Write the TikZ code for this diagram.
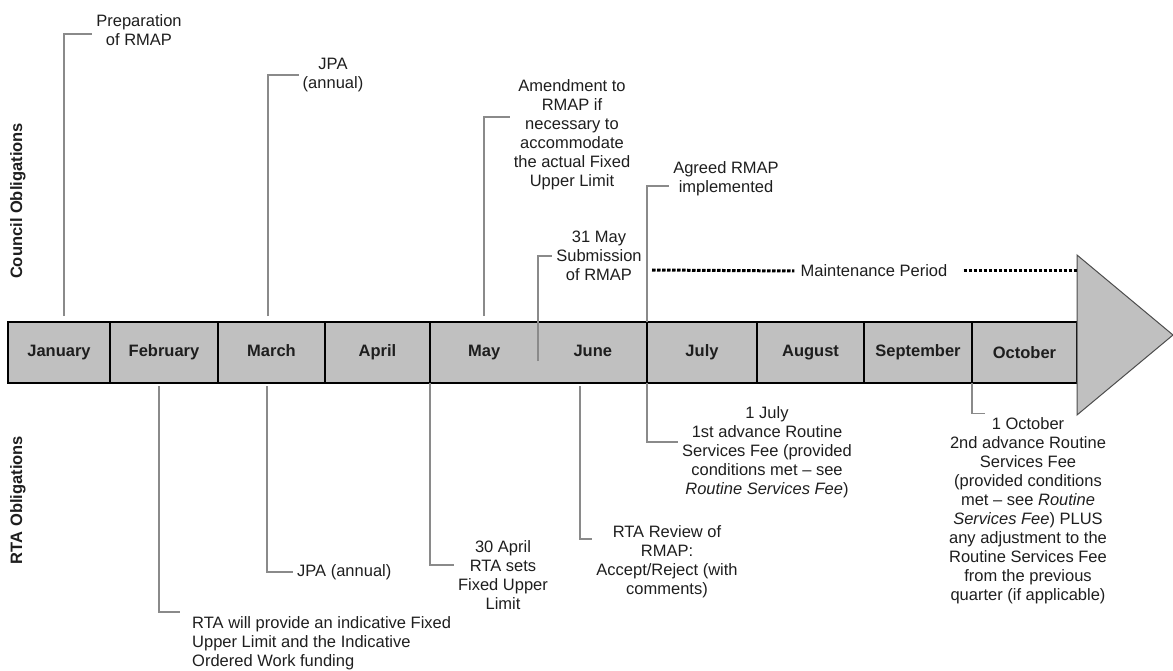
\documentclass[tikz,border=0pt]{standalone}
\usepackage{fontspec}
\setmainfont{Liberation Sans}
\usetikzlibrary{positioning}

\definecolor{barfill}{HTML}{C0C0C0}
\definecolor{linkgray}{HTML}{8A8A8A}
\definecolor{inkgray}{HTML}{1E1E1E}

\begin{document}
\begin{tikzpicture}[
  x=1pt, y=-1pt,
  font=\fontsize{16.5}{19}\selectfont,
  every node/.style={text=inkgray},
  cell/.style={
    fill=barfill,
    minimum height=61pt,
    text height=12pt,
    text depth=3.5pt,
    inner sep=0pt,
    outer sep=0pt,
    font=\fontsize{16.5}{19}\selectfont\bfseries
  },
  barline/.style={draw=black, line width=1.1pt},
  conn/.style={draw=linkgray, line width=1.1pt},
  note/.style={align=center, inner sep=4pt},
  side/.style={rotate=90, font=\fontsize{16.5}{19}\selectfont\bfseries},
  dots/.style={draw=black, line width=3pt, dash pattern=on 3.5pt off 1.5pt}
]
\useasboundingbox (0,0) rectangle (1173,671);

% =========================
% Side titles
% =========================
\node[side] (council) at (18,201) {Council Obligations};
\node[side] (rta) at (18,500) {RTA Obligations};

% =========================
% Month bar
% =========================
\node[cell, minimum width=102pt, anchor=north west] (jan) at (8,322) {January};
\node[cell, minimum width=108pt, right=0pt of jan] (feb) {February};
\node[cell, minimum width=107pt, right=0pt of feb] (mar) {March};
\node[cell, minimum width=105pt, right=0pt of mar] (apr) {April};
\node[cell, minimum width=108.5pt, right=0pt of apr] (may) {May};
\node[cell, minimum width=108.5pt, right=0pt of may] (jun) {June};
\node[cell, minimum width=110pt, right=0pt of jun] (jul) {July};
\node[cell, minimum width=107pt, right=0pt of jul] (aug) {August};
\node[cell, minimum width=108pt, right=0pt of aug] (sep) {September};
\node[cell, minimum width=105pt, text depth=0pt, right=0pt of sep] (oct) {October};

\draw[barline] (jan.north west) rectangle (oct.south east);
\foreach \m in {jan,feb,mar,apr,jun,jul,aug,sep}
  \draw[barline] (\m.north east) -- (\m.south east);
\draw[line width=2pt] (oct.north west) -- (oct.north east);

% arrow head
\draw[fill=barfill, draw=black!70, line width=1pt]
  ([yshift=67pt]oct.north east) -- ++(96,80) -- ([yshift=-32pt]oct.south east) -- cycle;

% =========================
% Council obligations (above)
% =========================
\node[note] (prep) at (139,30) {Preparation\\of RMAP};
\node[note] (jpat) at (333,75) {JPA\\(annual)};
\node[note] (amend) at (572,135)
{Amendment to\\RMAP if\\necessary to\\accommodate\\the actual Fixed\\Upper Limit};
\node[note] (may31) at (599,256) {31 May\\Submission\\of RMAP};
\node[note] (agreed) at (726,179) {Agreed RMAP\\implemented};

\coordinate (t-jan) at (64,316);
\coordinate (t-mar) at (268,316);
\coordinate (t-may) at (484,316);
\coordinate (t-may31) at (538,361);

\draw[conn] (t-jan) |- ([yshift=-4pt]prep.west);
\draw[conn] (t-mar) |- (jpat.west);
\draw[conn] (t-may) |- ([yshift=18pt]amend.west);
\draw[conn] (t-may31) |- (may31.west);
\draw[conn] (jun.north east) |- ([yshift=-7pt]agreed.west);

% maintenance period
\node[inner sep=6pt] (maint) at (874,271) {Maintenance Period};
\coordinate (m-start) at (652,270);
\draw[dots] (m-start) -- (maint.west);
\draw[dots] ([xshift=10pt]maint.east) -- (maint.east -| oct.east);

% =========================
% RTA obligations (below)
% =========================
\node[note, align=left, anchor=north west] (febnote) at (188,612)
{RTA will provide an indicative Fixed\\Upper Limit and the Indicative\\Ordered Work funding};
\node[note, anchor=west] (jpab) at (293,572) {JPA (annual)};
\node[note] (apr30) at (503,575) {30 April\\RTA sets\\Fixed Upper\\Limit};
\node[note] (junnote) at (667,562) {RTA Review of\\RMAP:\\Accept/Reject (with\\comments)};
\node[note] (julnote) at (767,452)
{1 July\\1st advance Routine\\Services Fee (provided\\conditions met -- see\\\textit{Routine Services Fee})};
\node[note] (octnote) at (1028,511)
{1 October\\2nd advance Routine\\Services Fee\\(provided conditions\\met -- see \textit{Routine}\\\textit{Services Fee}) PLUS\\any adjustment to the\\Routine Services Fee\\from the previous\\quarter (if applicable)};

\coordinate (b-feb) at (159,386);
\coordinate (b-mar) at (267,386);
\coordinate (b-jun) at (580,386);

\draw[conn] (b-feb) |- ([xshift=-8pt]febnote.north west);
\draw[conn] (b-mar) |- (jpab.west);
\draw[conn] (apr.south east) |- ([yshift=10pt]apr30.west);
\draw[conn] (b-jun) |- ([yshift=23pt]junnote.west);
\draw[conn] (jun.south east) |- ([yshift=10pt]julnote.west);
\draw[conn] (sep.south east) |- ([xshift=-43pt]octnote.north);

\end{tikzpicture}
\end{document}
